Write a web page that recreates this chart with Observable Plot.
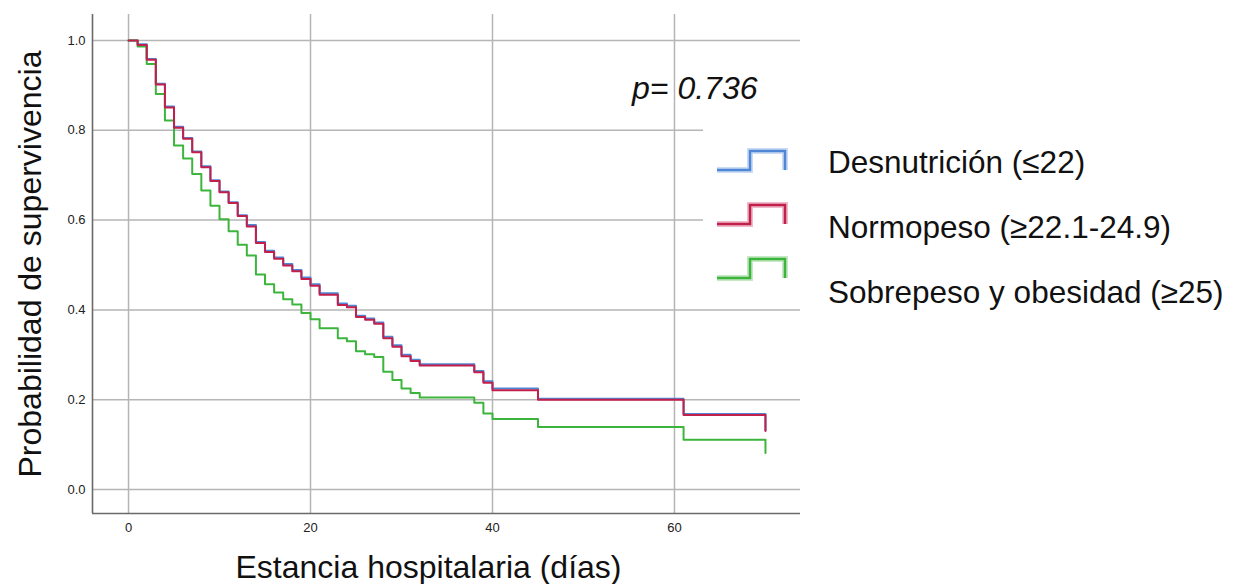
<!DOCTYPE html>
<html><head><meta charset="utf-8">
<script src="https://cdn.jsdelivr.net/npm/d3@7"></script>
<script src="https://cdn.jsdelivr.net/npm/@observablehq/plot@0.6"></script>
<style>
body{margin:0;background:#fff;font-family:"Liberation Sans",Arial,sans-serif;}
#wrap{position:relative;width:1233px;height:584px;overflow:hidden;}
#legend{position:absolute;left:703px;top:112px;width:530px;height:196px;background:#fff;}
#legend svg{overflow:visible;}
</style></head><body><div id="wrap"></div>
<script>
// ---- data ----
const days = [0,1,2,3,4,5,6,7,8,9,10,11,12,13,14,15,16,17,18,19,20,21,23,24,25,26,27,28,29,30,31,32,38,39,40,45,61,70];
const survDesnutricion = [1.0,0.992,0.959,0.904,0.853,0.808,0.783,0.753,0.720,0.689,0.664,0.640,0.611,0.589,0.551,0.532,0.517,0.502,0.489,0.472,0.457,0.437,0.414,0.409,0.387,0.381,0.372,0.340,0.321,0.300,0.289,0.279,0.264,0.241,0.225,0.202,0.168,0.132];
const survNormopeso = [1.0,0.990,0.957,0.902,0.851,0.806,0.781,0.751,0.718,0.687,0.662,0.638,0.609,0.586,0.549,0.529,0.514,0.499,0.486,0.469,0.454,0.434,0.411,0.406,0.384,0.378,0.369,0.337,0.318,0.297,0.286,0.276,0.261,0.238,0.221,0.200,0.166,0.130];
const survSobrepeso = [1.0,0.987,0.948,0.881,0.822,0.766,0.737,0.703,0.666,0.632,0.602,0.575,0.545,0.521,0.479,0.457,0.439,0.424,0.412,0.393,0.379,0.359,0.337,0.330,0.308,0.301,0.295,0.262,0.244,0.225,0.215,0.205,0.193,0.169,0.157,0.139,0.111,0.081];
const seriesNames = ["Desnutrición (≤22)","Normopeso (≥22.1-24.9)","Sobrepeso y obesidad (≥25)"];
const seriesColors = ["#4f87d6","#c21f4b","#3db53d"];
const xTicks = [0,20,40,60];
const yTicks = [0,0.2,0.4,0.6,0.8,1.0];
const xLabel = "Estancia hospitalaria (días)";
const yLabel = "Probabilidad de supervivencia";
const pValueLabel = "p= 0.736";
const xDomain = [-3.96,73.85];
const yDomain = [-0.0535,1.058];

// ---- table ----
const allSeries = [survDesnutricion, survNormopeso, survSobrepeso];
const rows = [];
allSeries.forEach((arr,i)=>arr.forEach((s,j)=>rows.push({day:days[j], surv:s, group:seriesNames[i]})));
const drawOrder = [0,2,1];

const font = "Liberation Sans, Arial, sans-serif";
const chart = Plot.plot({
  width:1233, height:584,
  marginLeft:92, marginRight:433, marginTop:14, marginBottom:71,
  style:{fontFamily:font, background:"#fff", color:"#222"},
  x:{domain:xDomain},
  y:{domain:yDomain},
  color:{domain:seriesNames, range:seriesColors},
  marks:[
    Plot.gridX(xTicks,{stroke:"#b5b5b5",strokeOpacity:1,strokeWidth:1.5}),
    Plot.gridY(yTicks,{stroke:"#b5b5b5",strokeOpacity:1,strokeWidth:1.5}),
    Plot.ruleX([xDomain[0]],{stroke:"#6a6a6a",strokeWidth:1.6}),
    Plot.ruleY([yDomain[0]],{stroke:"#6a6a6a",strokeWidth:1.6}),
    Plot.axisX(xTicks,{tickSize:0,tickPadding:9,fontSize:13,label:null,tickFormat:d=>String(d)}),
    Plot.axisY(yTicks,{tickSize:0,tickPadding:7,fontSize:13,label:null,tickFormat:d3.format(".1f")}),
    ...drawOrder.map(i=>Plot.line(rows.filter(r=>r.group===seriesNames[i]),{x:"day",y:"surv",stroke:"group",curve:"step-after",strokeWidth:2})),
    Plot.text([xLabel],{text:d=>d,frameAnchor:"bottom",dy:64,dx:-18,fontSize:32,fill:"#111"}),
    Plot.text([yLabel],{text:d=>d,frameAnchor:"left",rotate:-90,textAnchor:"middle",dx:-62,fontSize:32,fill:"#111"}),
    Plot.text([pValueLabel],{text:d=>d,frameAnchor:"top-right",dx:-43,dy:62,textAnchor:"end",fontSize:32,fontStyle:"italic",fill:"#111"})
  ]
});
const wrap = document.getElementById("wrap");
wrap.appendChild(chart);

// ---- legend (HTML overlay with inline svg) ----
const lg = document.createElement("div");
lg.id = "legend";
const ns = "http://www.w3.org/2000/svg";
const svg = document.createElementNS(ns,"svg");
svg.setAttribute("width",530); svg.setAttribute("height",196);
seriesNames.forEach((name,i)=>{
  const yb = 58 + 54*i, yt = yb - 19;
  const pts = `14,${yb} 47,${yb} 47,${yt} 82,${yt} 82,${yb}`;
  [[6,0.3],[2.5,1]].forEach(([w,o])=>{
    const pl = document.createElementNS(ns,"polyline");
    pl.setAttribute("points",pts); pl.setAttribute("fill","none");
    pl.setAttribute("stroke",seriesColors[i]); pl.setAttribute("stroke-width",w);
    pl.setAttribute("stroke-opacity",o);
    svg.appendChild(pl);
  });
  const t = document.createElementNS(ns,"text");
  t.setAttribute("x",125); t.setAttribute("y",50+65*i);
  t.setAttribute("dominant-baseline","central");
  t.setAttribute("font-size",31.5); t.setAttribute("font-family",font); t.setAttribute("fill","#111");
  t.textContent = name;
  svg.appendChild(t);
});
lg.appendChild(svg);
wrap.appendChild(lg);
</script></body></html>
